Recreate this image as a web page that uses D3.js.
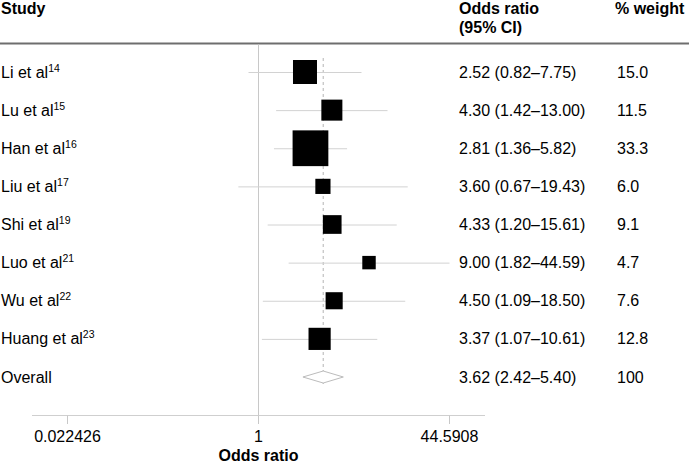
<!DOCTYPE html>
<html><head><meta charset="utf-8">
<script src="https://cdn.jsdelivr.net/npm/d3@7"></script>
<style>
body{margin:0;background:#fff;}
text{font-family:"Liberation Sans",Arial,sans-serif;fill:#000;}
</style></head>
<body><svg id="c" width="689" height="467"></svg>
<script>
const studies = ["Li et al", "Lu et al", "Han et al", "Liu et al", "Shi et al", "Luo et al", "Wu et al", "Huang et al"];
const refs = ["14", "15", "16", "17", "19", "21", "22", "23"];
const orVals = [2.52, 4.30, 2.81, 3.60, 4.33, 9.00, 4.50, 3.37];
const ciLow = [0.82, 1.42, 1.36, 0.67, 1.20, 1.82, 1.09, 1.07];
const ciHigh = [7.75, 13.00, 5.82, 19.43, 15.61, 44.59, 18.50, 10.61];
const weights = [15.0, 11.5, 33.3, 6.0, 9.1, 4.7, 7.6, 12.8];
const overall = {label: "Overall", or: 3.62, lo: 2.42, hi: 5.40, weight: "100"};
const tickVals = [0.022426, 1, 44.5908];
const tickLabels = ["0.022426", "1", "44.5908"];

const svg = d3.select("#c");
const x = d3.scaleLog().domain([0.022426, 44.5908]).range([67.5, 449.5]);
const nRows = studies.length + 1;
const y = d3.scaleLinear().domain([0, nRows - 1]).range([72, 377]);
const side = d3.scaleSqrt().domain([0, 15]).range([0, 24]);
const fmt = d => d.toFixed(2);

const colVal = 459, colW = 617;

// header
const hdr = svg.append("g").attr("font-weight", "bold").attr("font-size", 16);
hdr.append("text").attr("x", 1).attr("y", 14).text("Study");
hdr.append("text").attr("x", colVal).attr("y", 14).text("Odds ratio");
hdr.append("text").attr("x", colVal).attr("y", 33).text("(95% CI)");
hdr.append("text").attr("x", colW - 2).attr("y", 14).text("% weight");
svg.append("line").attr("x1", 0).attr("x2", 689).attr("y1", 43.5).attr("y2", 43.5)
  .attr("stroke", "#6e6e6e").attr("stroke-width", 2);

// reference line at 1
svg.append("line").attr("x1", x(1)).attr("x2", x(1)).attr("y1", 44.5).attr("y2", 424)
  .attr("stroke", "#c8c8c8").attr("stroke-width", 1);

// axis
const axisY = 415.5;
svg.append("line").attr("x1", 32).attr("x2", 485).attr("y1", axisY).attr("y2", axisY)
  .attr("stroke", "#cfcfcf").attr("stroke-width", 1);
svg.selectAll(".tk").data(tickVals).enter().append("line")
  .attr("x1", d => x(d)).attr("x2", d => x(d)).attr("y1", axisY).attr("y2", 424)
  .attr("stroke", "#c8c8c8");
svg.selectAll(".tl").data(tickVals).enter().append("text")
  .attr("x", d => x(d)).attr("y", 442).attr("text-anchor", "middle").attr("font-size", 16)
  .text((d, i) => tickLabels[i]);
svg.append("text").attr("x", x(1)).attr("y", 461).attr("text-anchor", "middle")
  .attr("font-size", 16).attr("font-weight", "bold").text("Odds ratio");

// overall dashed line
svg.append("line").attr("x1", x(overall.or)).attr("x2", x(overall.or))
  .attr("y1", 58).attr("y2", 384)
  .attr("stroke", "#b4b4b4").attr("stroke-width", 1).attr("stroke-dasharray", "3,3");

// CI lines
svg.selectAll(".ci").data(studies).enter().append("line")
  .attr("x1", (d, i) => x(ciLow[i])).attr("x2", (d, i) => x(ciHigh[i]))
  .attr("y1", (d, i) => y(i) + 0.5).attr("y2", (d, i) => y(i) + 0.5)
  .attr("stroke", "#d2d2d2").attr("stroke-width", 1);

// squares
svg.selectAll(".sq").data(studies).enter().append("rect")
  .attr("x", (d, i) => x(orVals[i]) - side(weights[i]) / 2)
  .attr("y", (d, i) => y(i) - side(weights[i]) / 2)
  .attr("width", (d, i) => side(weights[i]))
  .attr("height", (d, i) => side(weights[i]))
  .attr("fill", "#000");

// diamond
const oy = y(nRows - 1);
svg.append("path")
  .attr("d", `M${x(overall.lo)},${oy} L${x(overall.or)},${oy - 6} L${x(overall.hi)},${oy} L${x(overall.or)},${oy + 6} Z`)
  .attr("fill", "#fff").attr("stroke", "#bcbcbc").attr("stroke-width", 1);

// labels
const lab = svg.selectAll(".lab").data(studies).enter().append("text")
  .attr("x", 1).attr("y", (d, i) => y(i) + 5.5).attr("font-size", 16);
lab.append("tspan").text(d => d);
lab.append("tspan").attr("font-size", 10.5).attr("dy", -6).text((d, i) => refs[i]);
svg.append("text").attr("x", 1).attr("y", oy + 5.5).attr("font-size", 16).text(overall.label);

// values
svg.selectAll(".val").data(studies).enter().append("text")
  .attr("x", colVal).attr("y", (d, i) => y(i) + 5.5).attr("font-size", 16)
  .text((d, i) => `${fmt(orVals[i])} (${fmt(ciLow[i])}\u2013${fmt(ciHigh[i])})`);
svg.append("text").attr("x", colVal).attr("y", oy + 5.5).attr("font-size", 16)
  .text(`${fmt(overall.or)} (${fmt(overall.lo)}\u2013${fmt(overall.hi)})`);
svg.selectAll(".wt").data(studies).enter().append("text")
  .attr("x", colW).attr("y", (d, i) => y(i) + 5.5).attr("font-size", 16)
  .text((d, i) => weights[i].toFixed(1));
svg.append("text").attr("x", colW).attr("y", oy + 5.5).attr("font-size", 16).text(overall.weight);
</script></body></html>
